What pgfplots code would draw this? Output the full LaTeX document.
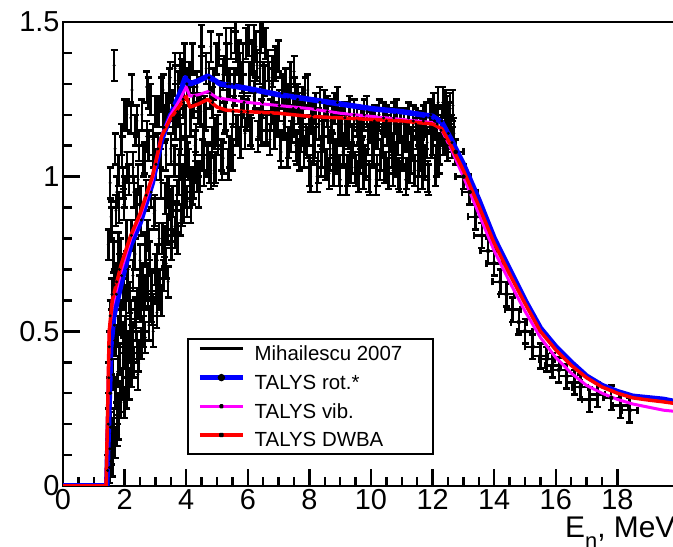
\documentclass[border=0pt]{standalone}
\usepackage{fontspec}
\setmainfont{Liberation Sans}
\usepackage{pgfplots}
\pgfplotsset{compat=1.18}
\definecolor{rblue}{RGB}{0,0,255}
\definecolor{rmag}{RGB}{255,0,255}
\definecolor{rred}{RGB}{255,0,0}
\pgfplotsset{
  mihstyle/.style={only marks, mark=*, mark size=1.3bp, black,
    error bars/.cd, y dir=both, y fixed=0.05,
    error bar style={line width=2.5bp, black},
    error mark options={rotate=90, mark size=3.5bp, line width=2.5bp, black}},
}
\begin{document}
\begin{tikzpicture}
\begin{axis}[
  scale only axis,
  width=616bp, height=464bp,
  xmin=0, xmax=20, ymin=0, ymax=1.5,
  xtick={0,2,...,18}, xticklabels={0,2,4,6,8,10,12,14,16,18},
  ytick={0,0.5,1,1.5}, yticklabels={0,0.5,1,1.5},
  minor x tick num=3, minor y tick num=4,
  xtick pos=left, ytick pos=left,
  tick align=inside,
  major tick length=17bp, minor tick length=9bp,
  axis line style={line width=2.5bp},
  every tick/.style={black, line width=2.5bp},
  tick label style={font=\fontsize{29}{33}\selectfont},
  xlabel={E\raisebox{-0.35em}{\fontsize{22}{22}\selectfont n}, MeV},
  xlabel style={at={(axis description cs:0.815,-0.112)}, anchor=base west, inner sep=0pt, font=\fontsize{30}{34}\selectfont},
  legend cell align=left,
  legend style={at={(axis description cs:0.2175,0.3040)}, anchor=north west, draw=none, fill=none,
    inner sep=0pt, row sep=9.7bp, column sep=9bp, font=\fontsize{20.5}{24}\selectfont,
    nodes={inner sep=0pt, text height=15bp, text depth=4bp, font=\fontsize{20.5}{24}\selectfont}},
  after end axis/.code={\draw[line width=2.5bp] (axis description cs:0.2029,0.3168) rectangle (axis description cs:0.6006,0.069);},
]
% Mihailescu 2007 (dense region)
\addplot[legend image code/.code={\draw[black, line width=3bp] (0bp,6.5bp) -- (43bp,6.5bp);}, mihstyle]
table {
x y
1.50 0.45
1.54 0.19
1.58 0.41
1.62 0.15
1.66 0.65
1.70 0.47
1.74 0.66
1.78 0.37
1.82 0.90
1.86 0.54
1.90 0.68
1.94 0.48
1.98 0.91
2.02 0.43
2.06 0.81
2.10 0.66
2.14 0.99
2.18 0.59
2.22 0.81
2.26 0.48
2.30 0.95
2.34 0.75
2.38 0.91
2.42 0.59
2.46 1.10
2.50 0.73
2.54 0.86
2.58 0.67
2.62 1.05
2.66 0.62
2.70 0.94
2.74 0.81
2.78 1.10
2.82 0.74
2.86 0.95
2.90 0.57
2.94 1.08
2.98 0.89
3.02 1.04
3.06 0.73
3.10 1.21
3.14 0.65
3.18 0.98
3.22 0.80
3.26 1.16
3.30 0.76
3.34 1.07
3.38 0.95
3.42 1.21
3.46 0.91
3.50 1.09
3.54 0.84
3.58 1.19
3.62 1.05
3.66 1.17
3.70 0.94
3.74 1.29
3.78 1.04
3.82 1.12
3.86 0.99
3.90 1.25
3.94 0.95
3.98 1.18
1.66 1.36
1.47 0.78
1.53 0.98
1.58 0.85
1.69 1.09
1.75 0.95
1.80 1.02
1.90 1.12
1.95 0.98
2.00 1.20
2.07 1.20
2.24 1.28
2.40 1.18
2.72 1.29
2.76 1.27
3.25 1.28
3.45 1.30
3.64 1.35
3.80 1.35
3.95 1.38
4.20 1.38
2.10 0.40
1.85 0.29
2.34 0.56
2.43 0.36
2.60 0.50
2.20 0.45
2.05 0.35
1.75 0.22
1.56 0.08
1.52 0.12
3.30 0.79
3.55 0.92
3.87 0.89
4.12 0.95
4.29 1.03
4.02 1.30
4.08 1.04
4.14 1.18
4.20 0.96
4.26 1.26
4.32 1.12
4.38 1.22
4.44 1.00
4.50 1.37
4.56 1.12
4.62 1.20
4.68 1.06
4.74 1.32
4.80 1.01
4.86 1.24
4.92 1.14
4.98 1.38
5.04 1.12
5.10 1.26
5.16 1.04
5.22 1.34
5.28 1.20
5.34 1.30
5.40 1.08
5.46 1.43
5.52 1.21
5.58 1.28
5.64 1.15
5.70 1.39
5.76 1.11
5.82 1.32
5.88 1.24
5.94 1.43
6.00 1.21
6.06 1.32
6.12 1.14
6.18 1.39
6.24 1.27
6.30 1.36
6.36 1.17
6.42 1.45
6.48 1.24
6.54 1.31
6.60 1.16
6.66 1.36
6.72 1.12
6.78 1.30
6.84 1.22
6.90 1.37
6.96 1.18
7.02 1.23
7.08 1.08
7.14 1.28
7.20 1.19
7.26 1.25
7.32 1.11
7.38 1.32
7.44 1.16
7.50 1.18
7.56 1.10
7.62 1.25
7.68 1.07
7.74 1.21
7.80 1.15
7.86 1.27
7.92 1.11
7.98 1.15
8.04 1.00
8.10 1.20
8.16 1.11
8.22 1.17
8.28 1.03
8.34 1.24
8.40 1.08
8.46 1.13
8.52 1.04
8.58 1.21
8.64 1.01
8.70 1.16
8.76 1.09
8.82 1.22
8.88 1.06
8.94 1.15
9.00 0.99
9.06 1.17
9.12 1.09
9.18 1.15
9.24 1.02
9.30 1.21
9.36 1.06
9.42 1.11
9.48 1.03
9.54 1.18
9.60 1.00
9.66 1.14
9.72 1.08
9.78 1.20
9.84 1.04
9.90 1.12
9.96 0.99
10.02 1.17
10.08 1.09
10.14 1.14
10.20 1.02
10.26 1.20
10.32 1.07
10.38 1.11
10.44 1.03
10.50 1.18
10.56 1.01
10.62 1.13
10.68 1.08
10.74 1.19
10.80 1.05
10.86 1.12
10.92 1.00
10.98 1.17
11.04 1.08
11.10 1.13
11.16 1.01
11.22 1.19
11.28 1.06
11.34 1.10
11.40 1.02
11.46 1.17
11.52 1.00
11.58 1.12
11.64 1.07
11.70 1.18
11.76 1.04
11.82 1.11
11.88 0.99
11.94 1.20
12.00 1.12
12.06 1.18
12.12 1.05
12.18 1.24
12.24 1.09
12.30 1.18
12.36 1.12
12.42 1.23
12.48 1.10
12.54 1.19
12.60 1.15
12.66 1.23
};
\addlegendentry{Mihailescu 2007}
% Mihailescu 2007 (interleaved points of the same data set)
\addplot[forget plot, mihstyle]
table {
x y
1.52 0.30
1.56 0.87
1.60 0.17
1.64 0.74
1.68 0.47
1.72 0.89
1.76 0.18
1.80 0.77
1.84 0.41
1.88 0.75
1.92 1.08
1.96 0.43
2.00 0.95
2.04 0.60
2.08 1.03
2.12 0.45
2.16 0.61
2.20 1.19
2.24 0.47
2.28 1.03
2.32 0.75
2.36 1.15
2.40 0.45
2.44 0.99
2.48 0.63
2.52 0.92
2.56 1.20
2.60 0.63
2.64 1.06
2.68 0.77
2.72 1.13
2.76 0.63
2.80 0.78
2.84 1.25
2.88 0.65
2.92 1.12
2.96 0.88
3.00 1.21
3.04 0.64
3.08 1.09
3.12 0.80
3.16 1.04
3.20 1.27
3.24 0.80
3.28 1.16
3.32 0.93
3.36 1.22
3.40 0.83
3.44 0.95
3.48 1.32
3.52 0.86
3.56 1.23
3.60 1.05
3.64 1.31
3.68 0.87
3.72 1.21
3.76 0.99
3.80 1.17
3.84 1.33
3.88 0.99
3.92 1.24
3.96 1.07
4.05 1.06
4.11 1.32
4.17 0.98
4.23 1.24
4.29 1.10
4.35 1.29
4.41 0.95
4.47 1.21
4.53 1.07
4.59 1.21
4.65 1.35
4.71 1.05
4.77 1.27
4.83 1.11
4.89 1.30
4.95 1.03
5.01 1.15
5.07 1.41
5.13 1.07
5.19 1.33
5.25 1.19
5.31 1.38
5.37 1.04
5.43 1.30
5.49 1.12
5.55 1.30
5.61 1.42
5.67 1.15
5.73 1.35
5.79 1.21
5.85 1.38
5.91 1.14
5.97 1.20
6.03 1.44
6.09 1.15
6.15 1.38
6.21 1.26
6.27 1.42
6.33 1.13
6.39 1.35
6.45 1.20
6.51 1.32
6.57 1.43
6.63 1.15
6.69 1.32
6.75 1.20
6.81 1.34
6.87 1.14
6.93 1.19
6.99 1.39
7.05 1.10
7.11 1.27
7.17 1.17
7.23 1.30
7.29 1.08
7.35 1.25
7.41 1.13
7.47 1.22
7.53 1.27
7.59 1.09
7.65 1.22
7.71 1.13
7.77 1.24
7.83 1.08
7.89 1.12
7.95 1.28
8.01 1.02
8.07 1.19
8.13 1.09
8.19 1.22
8.25 1.00
8.31 1.17
8.37 1.05
8.43 1.14
8.49 1.23
8.55 1.04
8.61 1.18
8.67 1.07
8.73 1.20
8.79 1.02
8.85 1.07
8.91 1.24
8.97 1.02
9.03 1.16
9.09 1.08
9.15 1.19
9.21 0.99
9.27 1.14
9.33 1.03
9.39 1.12
9.45 1.20
9.51 1.02
9.57 1.15
9.63 1.06
9.69 1.17
9.75 1.01
9.81 1.05
9.87 1.21
9.93 1.00
9.99 1.16
10.05 1.08
10.11 1.18
10.17 0.99
10.23 1.14
10.29 1.04
10.35 1.12
10.41 1.19
10.47 1.03
10.53 1.15
10.59 1.06
10.65 1.17
10.71 1.02
10.77 1.06
10.83 1.20
10.89 1.01
10.95 1.16
11.01 1.07
11.07 1.17
11.13 0.99
11.19 1.13
11.25 1.03
11.31 1.11
11.37 1.18
11.43 1.02
11.49 1.14
11.55 1.05
11.61 1.16
11.67 1.01
11.73 1.05
11.79 1.19
11.85 1.00
11.91 1.19
11.97 1.11
12.03 1.22
12.09 1.02
12.15 1.17
12.21 1.06
12.27 1.15
12.33 1.24
12.39 1.12
12.45 1.21
12.51 1.14
12.57 1.22
12.63 1.11
12.69 1.14
};
% Mihailescu 2007 (further points of the dense low-energy part)
\addplot[forget plot, mihstyle]
table {
x y
1.45 0.05
1.47 0.20
1.49 0.35
1.51 0.06
1.53 0.55
1.55 0.30
1.57 0.12
1.59 0.62
1.61 0.08
1.63 0.36
1.65 0.20
1.67 0.52
1.69 0.14
1.71 0.30
1.73 0.62
1.77 0.25
1.79 0.50
1.81 0.20
1.83 0.70
1.87 0.27
1.89 0.55
1.93 0.33
1.97 0.62
1.99 0.27
2.03 0.50
2.07 0.30
2.11 0.70
2.15 0.33
2.19 0.55
2.23 0.37
2.27 0.68
2.31 0.40
2.37 0.52
2.45 0.42
2.51 0.58
2.55 0.46
2.63 0.55
2.67 0.48
2.73 0.66
2.79 0.52
2.87 0.58
2.93 0.50
2.99 0.70
3.05 0.56
3.13 0.62
3.19 0.60
3.27 0.68
3.35 0.72
3.41 0.66
3.53 0.78
3.63 0.82
3.71 0.80
3.83 0.86
3.93 0.90
4.03 0.92
4.15 0.90
4.25 0.98
4.37 1.00
4.57 1.02
4.75 1.03
4.91 1.02
5.20 1.06
5.50 1.07
6.45 1.15
4.50 1.44
4.80 1.42
5.30 1.43
5.60 1.45
6.20 1.44
6.50 1.47
6.90 1.36
7.50 1.34
};
% Mihailescu 2007 (high-energy points with energy bins)
\addplot[forget plot, only marks, mark=none, black,
  error bars/.cd, x dir=both, x fixed=0.25, y dir=both, y fixed=0.04,
  error bar style={line width=2.5bp, black},
  error mark options={rotate=90, mark size=3.5bp, line width=2.5bp, black}]
table {
x y
12.75 1.08
13.00 1.00
13.20 0.95
13.40 0.87
13.60 0.81
13.80 0.76
14.00 0.72
14.20 0.66
14.40 0.62
14.60 0.57
14.80 0.53
15.00 0.50
15.25 0.45
15.50 0.42
15.70 0.41
15.90 0.39
16.10 0.375
16.35 0.355
16.60 0.335
16.80 0.32
17.10 0.28
17.35 0.295
17.80 0.285
18.10 0.26
18.40 0.245
};
% TALYS rot.*
\addplot[rblue, line width=5.5bp, line join=round, no markers,
  legend image code/.code={\draw[rblue, line width=5.5bp] (0bp,6.5bp) -- (43bp,6.5bp); \fill[black] (21.5bp,6.5bp) circle (1bp);}]
table {
x y
0 0
1.42 0
1.55 0.45
1.65 0.55
1.9 0.66
2.2 0.78
2.5 0.85
2.9 0.98
3.2 1.12
3.5 1.2
3.8 1.27
3.97 1.32
4.12 1.30
4.4 1.31
4.7 1.325
5.1 1.30
6 1.285
7 1.265
8 1.25
9 1.235
10 1.22
11 1.21
12 1.195
12.3 1.175
12.6 1.12
13 1.04
13.5 0.925
14 0.80
14.5 0.70
15 0.60
15.5 0.51
16 0.45
16.5 0.40
17 0.355
17.5 0.325
18 0.305
18.5 0.29
19 0.285
19.5 0.28
20 0.27
};
\addlegendentry{TALYS rot.*}
% TALYS vib.
\addplot[rmag, line width=3bp, line join=round, no markers,
  legend image code/.code={\draw[rmag, line width=3bp] (0bp,6.5bp) -- (43bp,6.5bp); \fill[black] (21.5bp,6.5bp) circle (1bp);}]
table {
x y
0 0
1.4 0
1.5 0.5
1.6 0.58
1.9 0.70
2.2 0.80
2.5 0.87
2.9 0.99
3.2 1.13
3.5 1.2
3.8 1.25
4.0 1.29
4.12 1.26
4.4 1.265
4.7 1.275
5.0 1.255
6 1.24
7 1.23
8 1.22
9 1.205
10 1.195
11 1.185
12 1.175
12.3 1.15
12.6 1.09
13 1.0
13.5 0.88
14 0.76
14.5 0.66
15 0.565
15.5 0.48
16 0.415
16.5 0.365
17 0.325
17.5 0.30
18 0.28
18.5 0.265
19 0.255
19.5 0.245
20 0.24
};
\addlegendentry{TALYS vib.}
% TALYS DWBA
\addplot[rred, line width=3.5bp, line join=round, no markers,
  legend image code/.code={\draw[rred, line width=3.5bp] (0bp,6.5bp) -- (43bp,6.5bp); \fill[black] (21.5bp,6.5bp) circle (1bp);}]
table {
x y
0 0
1.4 0
1.5 0.5
1.6 0.6
1.9 0.72
2.2 0.81
2.5 0.88
2.9 1.0
3.2 1.13
3.5 1.19
3.8 1.23
4.0 1.26
4.12 1.225
4.4 1.235
4.7 1.25
5.0 1.225
5.3 1.215
6 1.21
7 1.205
8 1.195
9 1.19
10 1.185
11 1.18
12 1.17
12.3 1.155
12.6 1.1
13 1.02
13.5 0.905
14 0.785
14.5 0.685
15 0.59
15.5 0.5
16 0.44
16.5 0.39
17 0.35
17.5 0.32
18 0.30
18.5 0.285
19 0.278
19.5 0.272
20 0.265
};
\addlegendentry{TALYS DWBA}
\end{axis}
\pgfresetboundingbox
\useasboundingbox ([shift={(-63bp,-61bp)}]current axis.south west) rectangle ++(673bp,547bp);
\end{tikzpicture}
\end{document}
